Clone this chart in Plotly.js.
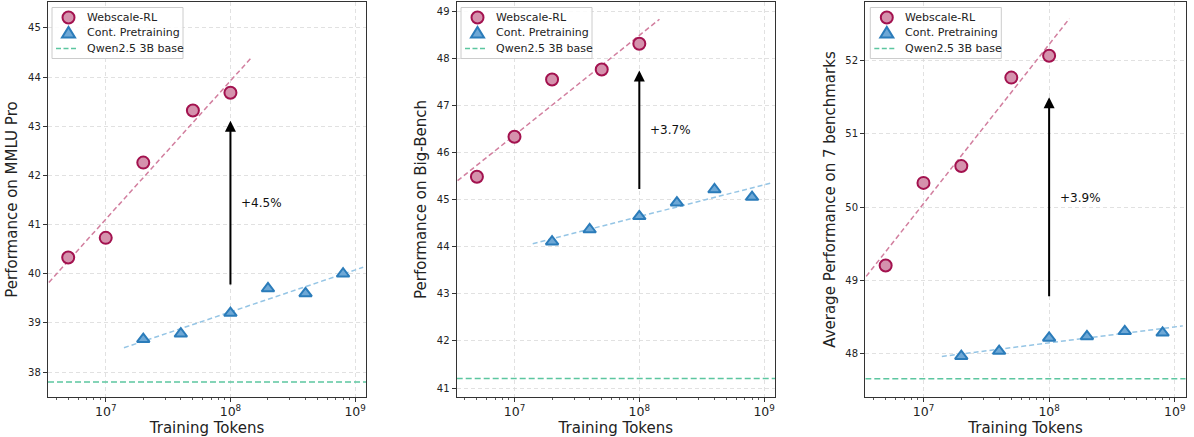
<!DOCTYPE html>
<html>
<head>
<meta charset="utf-8">
<script src="https://cdn.plot.ly/plotly-3.0.1.min.js"></script>
<style>html,body{margin:0;padding:0;background:#fff;}#chart{width:1194px;height:437px;}</style>
</head>
<body>
<div id="chart"></div>
<script>
// ---- data ----
const xWeb = [5e6, 1e7, 2e7, 5e7, 1e8];
const xCont = [2e7, 4e7, 1e8, 2e8, 4e8, 8e8];

const mmluWeb = [40.33, 40.73, 42.26, 43.32, 43.68];
const mmluCont = [38.67, 38.78, 39.20, 39.70, 39.60, 40.00];
const mmluBase = 37.8;

const bbWeb = [45.49, 46.34, 47.56, 47.77, 48.32];
const bbCont = [44.11, 44.37, 44.65, 44.94, 45.22, 45.06];
const bbBase = 41.2;

const avgWeb = [49.20, 50.33, 50.56, 51.77, 52.07];
const avgCont = [47.96, 48.03, 48.21, 48.23, 48.30, 48.28];
const avgBase = 47.65;

const gainLabels = ['+4.5%', '+3.7%', '+3.9%'];
const yTitles = ['Performance on MMLU Pro', 'Performance on Big-Bench', 'Average Performance on 7 benchmarks'];
const xTitle = 'Training Tokens';
const seriesNames = ['Webscale-RL', 'Cont. Pretraining', 'Qwen2.5 3B base'];
const arrowAt = 1e8;

// ---- styling ----
const W = 1194, H = 437;
const FONT = 'DejaVu Sans, Liberation Sans, sans-serif';
const webEdge = '#a3124f', webFill = '#d592ad', webFit = '#d27f9f';
const contEdge = '#2b7cba', contFill = '#6ea8d6', contFit = '#95c5e5';
const baseCol = '#5cc6a0';

const xRange = [6.537, 9.087];
const yRanges = [[37.5, 45.52], [40.815, 49.2], [47.406, 52.8]];
const xDomains = [[48/W, 366/W], [456.7/W, 775/W], [865.3/W, 1185.7/W]];
const yDomain = [1 - 396.7/H, 1 - 2.3/H];
// legend box (pixels)
const legLeft = [52, 461, 870.3], legTop = 7.5, legW = 131, legH = 51;
const legRows = [17.5, 33, 48.5];

const PX = x => x / W, PY = y => 1 - y / H;

function fit(xs, ys) {
  const lx = xs.map(Math.log10);
  const n = lx.length;
  const mx = lx.reduce((a,b)=>a+b,0)/n, my = ys.reduce((a,b)=>a+b,0)/n;
  let sxy = 0, sxx = 0;
  for (let i=0;i<n;i++){ sxy += (lx[i]-mx)*(ys[i]-my); sxx += (lx[i]-mx)**2; }
  const b = sxy/sxx, a = my - b*mx;
  const x0 = Math.min(...xs)*0.7, x1 = Math.max(...xs)*1.45;
  return {x:[x0,x1], y:[a+b*Math.log10(x0), a+b*Math.log10(x1)]};
}

const panels = [
  {web: mmluWeb, cont: mmluCont, base: mmluBase},
  {web: bbWeb, cont: bbCont, base: bbBase},
  {web: avgWeb, cont: avgCont, base: avgBase}
];

const traces = [];
const layout = {
  width: W, height: H,
  margin: {l:0, r:0, t:0, b:0},
  paper_bgcolor: '#fff', plot_bgcolor: '#fff',
  font: {family: FONT, color: '#222', size: 11},
  showlegend: false,
  annotations: [],
  shapes: []
};

panels.forEach((p, i) => {
  const sfx = i === 0 ? '' : String(i+1);
  const xa = 'x' + sfx, ya = 'y' + sfx;
  const fw = fit(xWeb, p.web), fc = fit(xCont, p.cont);
  traces.push({x: fw.x, y: fw.y, xaxis: xa, yaxis: ya, mode: 'lines', showlegend: false,
    line: {color: webFit, width: 1.5, dash: '5px,3px'}, hoverinfo: 'skip'});
  traces.push({x: fc.x, y: fc.y, xaxis: xa, yaxis: ya, mode: 'lines', showlegend: false,
    line: {color: contFit, width: 1.5, dash: '5px,3px'}, hoverinfo: 'skip'});
  traces.push({x: [10**xRange[0], 10**xRange[1]], y: [p.base, p.base], xaxis: xa, yaxis: ya, mode: 'lines',
    name: seriesNames[2], line: {color: baseCol, width: 1.5, dash: '6px,3px'}});
  traces.push({x: xWeb, y: p.web, xaxis: xa, yaxis: ya, mode: 'markers', name: seriesNames[0],
    marker: {symbol: 'circle', size: 12, color: webFill, line: {color: webEdge, width: 2}}});
  traces.push({x: xCont, y: p.cont, xaxis: xa, yaxis: ya, mode: 'markers', name: seriesNames[1],
    marker: {symbol: 'triangle-up', size: 11, color: contFill, line: {color: contEdge, width: 2}}});

  layout['xaxis' + sfx] = {
    type: 'log', range: xRange, domain: xDomains[i], anchor: ya,
    dtick: 1, exponentformat: 'power',
    showline: true, linecolor: '#333', linewidth: 1.2, mirror: true,
    ticks: 'outside', ticklen: 4, tickwidth: 1, tickcolor: '#333',
    tickfont: {family: FONT, size: 10, color: '#222'},
    showgrid: true, gridcolor: '#d9d9d9', gridwidth: 0.8, griddash: '4px,3px',
    minor: {ticks: 'outside', ticklen: 2, tickwidth: 0.8, tickcolor: '#333', dtick: 'D1', showgrid: false},
    zeroline: false,
    title: {text: xTitle, font: {family: FONT, size: 15, color: '#222'}, standoff: 4}
  };
  layout['yaxis' + sfx] = {
    range: yRanges[i], domain: yDomain, anchor: xa, dtick: 1,
    showline: true, linecolor: '#333', linewidth: 1.2, mirror: true,
    ticks: 'outside', ticklen: 4, tickwidth: 1, tickcolor: '#333',
    tickfont: {family: FONT, size: 10, color: '#222'},
    showgrid: true, gridcolor: '#d9d9d9', gridwidth: 0.8, griddash: '4px,3px',
    zeroline: false,
    title: {text: yTitles[i], font: {family: FONT, size: 15, color: '#222'}, standoff: 6}
  };

  // ---- legend (drawn as shapes + text) ----
  const L = legLeft[i];
  layout.shapes.push({type: 'rect', xref: 'paper', yref: 'paper', layer: 'above',
    x0: PX(L), x1: PX(L + legW), y0: PY(legTop), y1: PY(legTop + legH),
    fillcolor: 'rgba(255,255,255,0.85)', line: {color: '#cccccc', width: 1}});
  const mx = L + 16.5;
  const r0 = legRows[0], r1 = legRows[1], r2 = legRows[2];
  layout.shapes.push({type: 'circle', xref: 'paper', yref: 'paper', layer: 'above',
    x0: PX(mx - 6), x1: PX(mx + 6), y0: PY(r0 - 6), y1: PY(r0 + 6),
    fillcolor: webFill, line: {color: webEdge, width: 2}});
  layout.shapes.push({type: 'path', xref: 'paper', yref: 'paper', layer: 'above',
    path: `M ${PX(mx-6.5)} ${PY(r1+4.5)} L ${PX(mx+6.5)} ${PY(r1+4.5)} L ${PX(mx)} ${PY(r1-6)} Z`,
    fillcolor: contFill, line: {color: contEdge, width: 2}});
  layout.shapes.push({type: 'line', xref: 'paper', yref: 'paper', layer: 'above',
    x0: PX(L + 4), x1: PX(L + 25), y0: PY(r2), y1: PY(r2),
    line: {color: baseCol, width: 1.5, dash: '5px,2.5px'}});
  legRows.forEach((r, k) => {
    layout.annotations.push({xref: 'paper', yref: 'paper', x: PX(L + 33), y: PY(r),
      xanchor: 'left', yanchor: 'middle', showarrow: false, text: seriesNames[k],
      font: {family: FONT, size: 11, color: '#222'}});
  });

  // ---- gain arrow ----
  const idx = xWeb.indexOf(arrowAt), idc = xCont.indexOf(arrowAt);
  const bottom = p.cont[idc] + 0.55, top = p.web[idx] - 0.57;
  const lx = Math.log10(arrowAt);
  layout.annotations.push({
    xref: xa, yref: ya, axref: xa, ayref: ya,
    x: lx, y: top, ax: lx, ay: bottom, text: '', showarrow: true,
    arrowhead: 2, arrowsize: 1.1, arrowwidth: 2, arrowcolor: '#000', standoff: 0, startstandoff: 0
  });
  layout.annotations.push({
    xref: xa, yref: ya, x: lx + 0.07, y: (top + bottom) / 2, xanchor: 'left', yanchor: 'middle',
    text: gainLabels[i], showarrow: false, font: {family: FONT, size: 12, color: '#111'}
  });
});

Plotly.newPlot('chart', traces, layout, {staticPlot: true, displayModeBar: false});
</script>
</body>
</html>
